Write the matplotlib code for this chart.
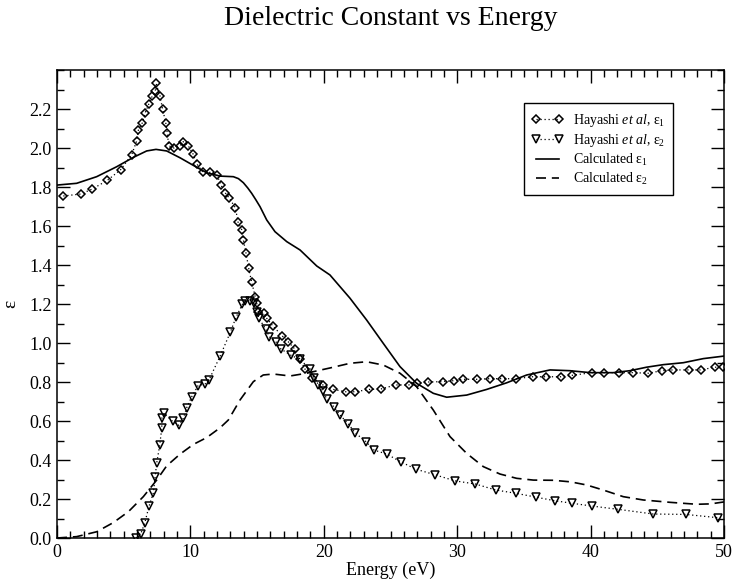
"""Dielectric constant vs energy: Hayashi et al. data against calculated curves."""

import matplotlib

matplotlib.use("Agg")
import matplotlib.pyplot as plt
from matplotlib.ticker import MultipleLocator


# Hayashi et al, eps1 (diamonds)
hay_e1_energy = [
    0.47, 1.77, 2.65, 3.77, 4.77, 5.6, 5.97, 6.1, 6.4, 6.6, 6.87, 7.15, 7.37, 7.42,
    7.72, 7.92, 8.15, 8.27, 8.37, 8.77, 9.22, 9.47, 9.85, 10.2, 10.5, 10.95, 11.47,
    12.0, 12.3, 12.6, 12.9, 13.37, 13.57, 13.87, 13.97, 14.17, 14.37, 14.59, 14.87,
    14.97, 15.1, 15.54, 15.72, 16.17, 16.89, 17.34, 17.84, 18.2, 18.6, 19.15, 19.93,
    20.72, 21.64, 22.34, 23.41, 24.27, 25.39, 26.36, 27.0, 27.84, 28.9, 29.76, 30.4,
    31.46, 32.46, 33.33, 34.4, 35.65, 36.66, 37.78, 38.58, 40.08, 41.0, 42.15, 43.2,
    44.33, 45.33, 46.15, 47.4, 48.25, 49.33, 49.96,
]
hay_e1_value = [
    1.754, 1.764, 1.79, 1.834, 1.889, 1.966, 2.036, 2.092, 2.13, 2.18, 2.224, 2.268,
    2.294, 2.332, 2.267, 2.198, 2.13, 2.075, 2.012, 2.0, 2.01, 2.033, 2.01, 1.969,
    1.916, 1.875, 1.875, 1.86, 1.809, 1.771, 1.744, 1.694, 1.62, 1.578, 1.528, 1.46,
    1.383, 1.313, 1.234, 1.204, 1.16, 1.152, 1.127, 1.088, 1.036, 1.006, 0.968, 0.918,
    0.865, 0.823, 0.785, 0.762, 0.75, 0.75, 0.762, 0.764, 0.785, 0.785, 0.793, 0.8,
    0.802, 0.807, 0.814, 0.814, 0.817, 0.817, 0.817, 0.827, 0.827, 0.827, 0.834,
    0.848, 0.848, 0.848, 0.848, 0.845, 0.858, 0.862, 0.862, 0.862, 0.876, 0.876,
]

# Hayashi et al, eps2 (down triangles)
hay_e2_energy = [
    5.92, 6.27, 6.57, 6.9, 7.22, 7.35, 7.47, 7.7, 7.85, 7.87, 8.02, 8.67, 9.12, 9.47,
    9.72, 10.1, 10.57, 11.12, 11.39, 12.24, 12.99, 13.42, 13.89, 14.12, 14.47, 14.79,
    14.97, 15.14, 15.64, 15.92, 16.42, 16.79, 17.54, 18.2, 18.97, 19.25, 19.6, 19.91,
    20.22, 20.79, 21.21, 21.84, 22.34, 23.16, 23.76, 24.7, 25.79, 26.9, 28.35, 29.84,
    31.36, 32.9, 34.43, 35.87, 37.33, 38.63, 40.08, 42.08, 44.7, 47.13, 49.57,
]
hay_e2_value = [
    0.0, 0.02, 0.075, 0.164, 0.231, 0.311, 0.383, 0.477, 0.562, 0.617, 0.639, 0.598,
    0.578, 0.614, 0.668, 0.725, 0.781, 0.791, 0.81, 0.935, 1.055, 1.132, 1.198,
    1.217, 1.217, 1.204, 1.16, 1.126, 1.072, 1.032, 1.005, 0.969, 0.937, 0.916, 0.867,
    0.822, 0.787, 0.756, 0.713, 0.67, 0.631, 0.585, 0.54, 0.494, 0.451, 0.431, 0.39,
    0.353, 0.324, 0.293, 0.277, 0.246, 0.229, 0.21, 0.191, 0.178, 0.164, 0.147,
    0.123, 0.121, 0.104,
]

# Calculated eps1 (solid)
calc_e1_energy = [
    0.0, 1.47, 2.97, 4.47, 5.72, 6.72, 7.42, 8.22, 9.22, 10.22, 11.22, 12.22, 13.22,
    13.6, 13.97, 14.3, 14.59, 14.9, 15.22, 15.72, 16.34, 17.22, 18.22, 19.47, 20.46,
    21.96, 23.21, 24.46, 25.71, 26.96, 28.21, 29.21, 30.71, 32.21, 33.71, 35.21,
    36.96, 38.46, 39.96, 41.7, 42.95, 44.2, 45.45, 46.95, 48.45, 50.0,
]
calc_e1_value = [
    1.81, 1.819, 1.853, 1.904, 1.952, 1.985, 1.993, 1.985, 1.95, 1.911, 1.873, 1.856,
    1.853, 1.843, 1.822, 1.795, 1.768, 1.735, 1.699, 1.631, 1.571, 1.52, 1.477, 1.395,
    1.349, 1.23, 1.118, 0.998, 0.879, 0.793, 0.742, 0.722, 0.733, 0.762, 0.796, 0.836,
    0.862, 0.858, 0.848, 0.848, 0.858, 0.876, 0.889, 0.899, 0.92, 0.933,
]

# Calculated eps2 (dashed)
calc_e2_energy = [
    0.0, 1.47, 2.97, 4.22, 5.35, 6.47, 7.47, 8.22, 9.22, 10.22, 11.22, 12.22, 12.84,
    13.72, 14.72, 15.46, 16.21, 17.47, 18.72, 19.21, 20.46, 21.96, 23.21, 24.46, 25.71,
    26.96, 28.21, 29.46, 30.71, 31.96, 33.21, 34.46, 35.71, 37.2, 38.5, 39.7, 40.95,
    42.45, 43.95, 45.95, 47.95, 49.0, 50.0,
]
calc_e2_value = [
    0.0, 0.007, 0.032, 0.079, 0.135, 0.212, 0.297, 0.37, 0.43, 0.48, 0.515, 0.565,
    0.605, 0.708, 0.802, 0.836, 0.841, 0.831, 0.845, 0.853, 0.872, 0.896, 0.904, 0.887,
    0.845, 0.776, 0.656, 0.52, 0.434, 0.366, 0.328, 0.306, 0.297, 0.296, 0.288, 0.272,
    0.246, 0.212, 0.195, 0.183, 0.173, 0.175, 0.185,
]

legend_labels = [
    r"Hayashi $\mathit{et\ al}$, ε$_1$",
    r"Hayashi $\mathit{et\ al}$, ε$_2$",
    r"Calculated ε$_1$",
    r"Calculated ε$_2$",
]


def main() -> None:
    plt.rcParams["font.family"] = ["Liberation Serif", "DejaVu Serif"]
    plt.rcParams["mathtext.fontset"] = "custom"
    plt.rcParams["mathtext.rm"] = "Liberation Serif"
    plt.rcParams["mathtext.it"] = "Liberation Serif:italic"

    fig = plt.figure(figsize=(7.33, 5.86), dpi=100, facecolor="white")
    ax = fig.add_axes([0.0778, 0.0819, 0.9099, 0.7986])

    marker_style = dict(
        color="black", linestyle=(0, (1, 2.2)), linewidth=0.9,
        markerfacecolor="none", markeredgecolor="black", markeredgewidth=1.1,
    )
    ax.plot(hay_e1_energy, hay_e1_value, marker="D", markersize=4.2,
            label=legend_labels[0], **marker_style)
    ax.plot(hay_e2_energy, hay_e2_value, marker="v", markersize=5.5,
            label=legend_labels[1], **marker_style)
    ax.plot(calc_e1_energy, calc_e1_value, color="black", linewidth=1.2,
            label=legend_labels[2])
    ax.plot(calc_e2_energy, calc_e2_value, color="black", linewidth=1.2,
            dashes=(6, 3.5), label=legend_labels[3])

    ax.set_xlim(0, 50)
    ax.set_ylim(0, 2.4)
    ax.xaxis.set_major_locator(MultipleLocator(10))
    ax.xaxis.set_minor_locator(MultipleLocator(1))
    ax.yaxis.set_major_locator(MultipleLocator(0.2))
    ax.yaxis.set_minor_locator(MultipleLocator(0.1))
    ax.set_yticks([i * 0.2 for i in range(12)])
    ax.set_yticklabels([f"{i * 0.2:.1f}" for i in range(12)])
    ax.tick_params(which="both", direction="in", top=True, right=True,
                   width=1.0, labelsize=13, pad=4)
    ax.tick_params(which="major", length=9.5)
    ax.tick_params(which="minor", length=5)
    for spine in ax.spines.values():
        spine.set_linewidth(1.1)

    ax.set_xlabel("Energy (eV)", fontsize=13, labelpad=1)
    ax.set_ylabel("ε", fontsize=14, labelpad=7)

    legend = ax.legend(
        loc="upper left", bbox_to_anchor=(0.700, 0.929), borderaxespad=0,
        fontsize=10, numpoints=2, handlelength=2.2, handletextpad=0.7,
        labelspacing=0.22, borderpad=0.6, fancybox=False, framealpha=1,
        edgecolor="black",
    )
    legend.get_frame().set_linewidth(1.0)

    fig.text(0.0778 + 0.9099 / 2, 1 - 25 / 586, "Dielectric Constant vs Energy",
             ha="center", va="baseline", fontsize=20)

    fig.savefig("out.png", dpi=100, facecolor=fig.get_facecolor())
    plt.close(fig)


if __name__ == "__main__":
    main()
